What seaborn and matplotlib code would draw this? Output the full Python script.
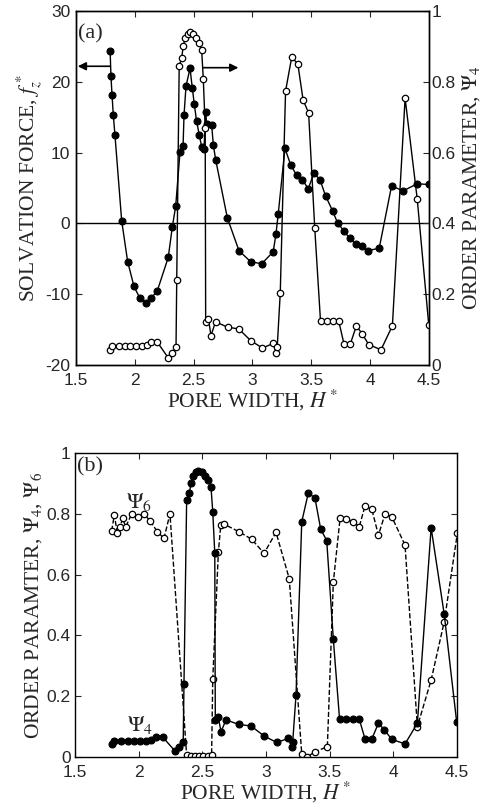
import matplotlib
matplotlib.use('Agg')
import matplotlib.pyplot as plt
import seaborn as sns

# ---------------- data ----------------
H_force = [1.79, 1.797, 1.806, 1.817, 1.831, 1.888, 1.939, 1.993, 2.044, 2.092,
           2.137, 2.191, 2.284, 2.318, 2.347, 2.384, 2.41, 2.418, 2.435, 2.469,
           2.488, 2.505, 2.525, 2.548, 2.568, 2.588, 2.602, 2.61, 2.653, 2.667,
           2.687, 2.786, 2.885, 2.984, 3.078, 3.176, 3.199, 3.219, 3.276, 3.324,
           3.375, 3.423, 3.474, 3.522, 3.573, 3.621, 3.68, 3.725, 3.775, 3.825,
           3.877, 3.927, 3.978, 4.077, 4.182, 4.28, 4.40, 4.50]
force = [24.4, 20.8, 18.2, 15.3, 12.5, 0.4, -5.4, -8.9, -10.6, -11.2,
         -10.6, -9.5, -4.8, -0.55, 2.4, 10.1, 11.0, 15.3, 19.4, 21.9,
         19.2, 16.9, 14.4, 12.5, 10.8, 10.5, 15.8, 14.1, 13.9, 11.1,
         9.0, 0.8, -3.85, -5.4, -5.7, -4.0, -1.55, 1.4, 10.6, 8.3,
         6.8, 6.2, 4.9, 7.1, 6.2, 3.9, 1.8, 0.0, -1.0, -2.1,
         -2.9, -3.2, -3.85, -3.5, 5.3, 4.6, 5.6, 5.5]

H_psi4 = [1.79, 1.81, 1.865, 1.915, 1.96, 2.01, 2.06, 2.10, 2.14, 2.19,
          2.285, 2.32, 2.35, 2.356, 2.377, 2.398, 2.411, 2.429, 2.45, 2.469,
          2.495, 2.521, 2.542, 2.568, 2.582, 2.598, 2.602, 2.626, 2.647, 2.686,
          2.788, 2.883, 2.985, 3.084, 3.176, 3.202, 3.21, 3.236, 3.281, 3.333,
          3.385, 3.43, 3.477, 3.529, 3.578, 3.629, 3.681, 3.733, 3.778, 3.831,
          3.883, 3.93, 3.988, 4.092, 4.189, 4.297, 4.40, 4.498]
psi4 = [0.042, 0.054, 0.054, 0.054, 0.054, 0.054, 0.054, 0.056, 0.065, 0.065,
        0.02, 0.034, 0.05, 0.24, 0.845, 0.867, 0.90, 0.925, 0.936, 0.94,
        0.936, 0.925, 0.911, 0.889, 0.807, 0.67, 0.122, 0.13, 0.083, 0.122,
        0.107, 0.102, 0.069, 0.048, 0.061, 0.034, 0.05, 0.204, 0.774, 0.869,
        0.851, 0.749, 0.712, 0.387, 0.124, 0.124, 0.124, 0.124, 0.059, 0.059,
        0.111, 0.089, 0.058, 0.043, 0.111, 0.754, 0.469, 0.114]

H_psi6 = [1.788, 1.809, 1.832, 1.853, 1.875, 1.898, 1.945, 1.997, 2.044, 2.089,
          2.147, 2.199, 2.246, 2.377, 2.408, 2.442, 2.476, 2.508, 2.542, 2.573,
          2.582, 2.626, 2.645, 2.67, 2.788, 2.888, 2.985, 3.079, 3.183, 3.281,
          3.325, 3.385, 3.482, 3.529, 3.582, 3.629, 3.681, 3.733, 3.778, 3.831,
          3.883, 3.935, 3.988, 4.092, 4.189, 4.297, 4.40, 4.503]
psi6 = [0.744, 0.796, 0.738, 0.755, 0.785, 0.757, 0.799, 0.788, 0.799, 0.777,
        0.741, 0.719, 0.80, 0.006, 0.004, 0.004, 0.003, 0.003, 0.004, 0.006,
        0.255, 0.673, 0.763, 0.766, 0.741, 0.716, 0.67, 0.739, 0.586, 0.009,
        0.001, 0.017, 0.034, 0.575, 0.785, 0.782, 0.774, 0.758, 0.826, 0.815,
        0.73, 0.799, 0.79, 0.697, 0.10, 0.253, 0.445, 0.736]

x_ticks = [1.5, 2, 2.5, 3, 3.5, 4, 4.5]
x_ticklabels = ['1.5', '2', '2.5', '3', '3.5', '4', '4.5']
f_ticks = [-20, -10, 0, 10, 20, 30]
op_ticks = [0, 0.2, 0.4, 0.6, 0.8, 1]
op_ticklabels = ['0', '0.2', '0.4', '0.6', '0.8', '1']

# ---------------- style ----------------
sns.set_style('ticks')
plt.rcParams['font.family'] = ['Liberation Sans', 'DejaVu Sans']
plt.rcParams['mathtext.fontset'] = 'stix'
plt.rcParams['xtick.direction'] = 'in'
plt.rcParams['ytick.direction'] = 'in'
plt.rcParams['axes.linewidth'] = 1.0

SERIF = ['Liberation Serif', 'DejaVu Serif']
TICK_FS = 12.5
LABEL_FS = 15.5

fig = plt.figure(figsize=(4.91, 8.06), dpi=100)
ax1 = fig.add_axes([0.1548, 0.5471, 0.7189, 0.4392])
ax2 = ax1.twinx()
ax3 = fig.add_axes([0.1527, 0.0608, 0.7780, 0.3772])

filled = dict(color='k', linewidth=1.0, marker='o', markersize=5,
              markerfacecolor='k', markeredgecolor='k', markeredgewidth=0.8)
hollow = dict(color='k', linewidth=1.0, marker='o', markersize=4.6,
              markerfacecolor='white', markeredgecolor='k', markeredgewidth=0.9)

# ---------------- panel (a) ----------------
ax1.axhline(0, color='k', linewidth=1.0, zorder=1)
sns.lineplot(x=H_force, y=force, ax=ax1, estimator=None, sort=False, **filled)
sns.lineplot(x=H_psi4, y=psi4, ax=ax2, estimator=None, sort=False, **hollow)

ax1.set_xlim(1.5, 4.5)
ax1.set_ylim(-20, 30)
ax2.set_ylim(0, 1)
ax1.set_xticks(x_ticks)
ax1.set_xticklabels(x_ticklabels, fontsize=TICK_FS)
ax1.set_yticks(f_ticks)
ax1.set_yticklabels([str(t) for t in f_ticks], fontsize=TICK_FS)
ax2.set_yticks(op_ticks)
ax2.set_yticklabels(op_ticklabels, fontsize=TICK_FS)
ax1.tick_params(axis='x', top=True, bottom=True, length=4, pad=6)
ax1.tick_params(axis='y', left=True, right=False, length=4, pad=4)
ax2.tick_params(axis='y', right=True, left=False, length=4, pad=2)
for s in ax2.spines.values():
    s.set_linewidth(1.0)

ax1.set_xlabel('PORE WIDTH, $H^*$', fontfamily=SERIF, fontsize=LABEL_FS, labelpad=0)
ax1.set_ylabel('SOLVATION FORCE, $f_z^*$', fontfamily=SERIF, fontsize=LABEL_FS, labelpad=0)
ax2.set_ylabel(r'ORDER PARAMETER, $\Psi_4$', fontfamily=SERIF, fontsize=LABEL_FS, labelpad=3)
ax1.text(0.005, 0.935, '(a)', transform=ax1.transAxes, ha='left', va='center',
         fontfamily=SERIF, fontsize=16)

ax1.annotate('', xy=(1.515, 22.2), xytext=(1.79, 22.2),
             arrowprops=dict(arrowstyle='-|>', color='k', lw=1.2,
                             mutation_scale=12, shrinkA=0, shrinkB=0))
ax1.annotate('', xy=(2.88, 22.0), xytext=(2.58, 22.0),
             arrowprops=dict(arrowstyle='-|>', color='k', lw=1.2,
                             mutation_scale=12, shrinkA=0, shrinkB=0))

# ---------------- panel (b) ----------------
sns.lineplot(x=H_psi6, y=psi6, ax=ax3, estimator=None, sort=False,
             linestyle='--', dashes=False, **hollow)
sns.lineplot(x=H_psi4, y=psi4, ax=ax3, estimator=None, sort=False, **filled)

ax3.set_xlim(1.5, 4.5)
ax3.set_ylim(0, 1)
ax3.set_xticks(x_ticks)
ax3.set_xticklabels(x_ticklabels, fontsize=TICK_FS)
ax3.set_yticks(op_ticks)
ax3.set_yticklabels(op_ticklabels, fontsize=TICK_FS)
ax3.tick_params(axis='x', top=True, bottom=True, length=4, pad=6)
ax3.tick_params(axis='y', left=True, right=True, length=4, pad=3)
ax3.set_xlabel('PORE WIDTH, $H^*$', fontfamily=SERIF, fontsize=LABEL_FS, labelpad=0)
ax3.set_ylabel(r'ORDER PARAMTER, $\Psi_4$, $\Psi_6$', fontfamily=SERIF,
               fontsize=LABEL_FS, labelpad=2)
ax3.text(0.005, 0.954, '(b)', transform=ax3.transAxes, ha='left', va='center',
         fontfamily=SERIF, fontsize=16)
ax3.text(2.0, 0.84, r'$\Psi_6$', ha='center', va='center', fontsize=16)
ax3.text(2.01, 0.105, r'$\Psi_4$', ha='center', va='center', fontsize=16)

for ax in (ax1, ax2, ax3):
    for s in ax.spines.values():
        s.set_visible(True)
        s.set_color('k')

fig.savefig('out.png', dpi=100)
